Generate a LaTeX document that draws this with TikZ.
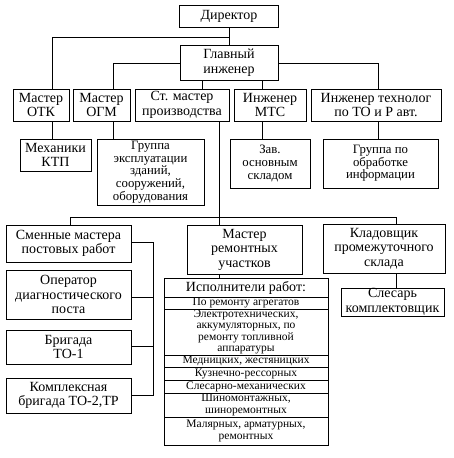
\documentclass[tikz,border=0pt]{standalone}
\usepackage{fontspec}
\setmainfont{Liberation Serif}
\begin{document}
\begin{tikzpicture}[x=1pt,y=-1pt,
  box/.style={draw, line width=0.9pt, align=center, inner sep=0pt, font=\fontsize{14}{14.5}\selectfont},
  sbox/.style={box, font=\fontsize{12.8}{12.6}\selectfont},
  tbox/.style={box, font=\fontsize{11.5}{12.2}\selectfont},
  ln/.style={line width=0.9pt}]
\useasboundingbox (0,0) rectangle (454,458);
% vertical-line x positions and junction rows
\coordinate (xOTK) at (52,0);
\coordinate (xOGM) at (113,0);
\coordinate (xST) at (202,0);
\coordinate (xMTS) at (262,0);
\coordinate (xTECH) at (378,0);
\coordinate (xDOWN) at (219,0);
\coordinate (xSMEN) at (70,0);
\coordinate (xKLAD) at (396,0);
\coordinate (xBR) at (153,0);
\coordinate (yTOP) at (0,37);
\coordinate (yMID) at (0,217);

% top levels
\node[box, minimum width=99pt, minimum height=22pt] (dir) at (229,16) {Директор};
\node[box, minimum width=98pt, minimum height=35pt] (gl) at (229,62.5) {Главный\\инженер};

\node[box, minimum width=56pt, minimum height=32pt] (otk) at (41,105) {Мастер\\ОТК};
\node[box, minimum width=57pt, minimum height=32pt] (ogm) at (101.5,105) {Мастер\\ОГМ};
\node[box, minimum width=94pt, minimum height=32pt] (st) at (182,105) {Ст. мастер\\производства};
\node[box, minimum width=72pt, minimum height=32pt] (mts) at (270,105) {Инженер\\МТС};
\node[box, minimum width=130pt, minimum height=32pt] (tech) at (376,105) {Инженер технолог\\по ТО и Р авт.};

\node[box, minimum width=71pt, minimum height=32pt] (ktp) at (55.5,155) {Механики\\КТП};
\node[sbox, minimum width=107pt, minimum height=66pt] (grp) at (150.5,172) {Группа\\эксплуатации\\зданий,\\сооружений,\\оборудования};
\node[sbox, minimum width=80pt, minimum height=49pt] (zav) at (270,163.5) {Зав.\\основным\\складом};
\node[sbox, minimum width=115pt, minimum height=49pt] (obr) at (380.5,163.5) {Группа по\\обработке\\информации};

% lower part
\node[box, minimum width=125pt, minimum height=37pt] (smen) at (68.5,243.5) {Сменные мастера\\постовых работ};
\node[box, minimum width=125pt, minimum height=49pt] (oper) at (68.5,294.5) {Оператор\\диагностического\\поста};
\node[box, minimum width=125pt, minimum height=34pt] (brig) at (68.5,347) {Бригада\\ТО-1};
\node[box, minimum width=125pt, minimum height=35pt] (kompl) at (68.5,395.5) {Комплексная\\бригада ТО-2,ТР};

\node[box, minimum width=115pt, minimum height=49pt] (mrem) at (244.5,249.5) {Мастер\\ремонтных\\участков};
\node[box, minimum width=122pt, minimum height=49pt] (klad) at (384,248.5) {Кладовщик\\промежуточного\\склада};
\node[box, minimum width=103pt, minimum height=28pt] (sles) at (392.5,302) {Слесарь\\комплектовщик};

% table of executors (x 164..328)
\node[box, minimum width=164pt, minimum height=19.5pt] (t0) at (246,287.75) {Исполнители работ:};
\node[tbox, minimum width=164pt, minimum height=11.5pt] (t1) at (246,303.25) {По ремонту агрегатов};
\node[tbox, minimum width=164pt, minimum height=46pt, font=\fontsize{11.5}{11.2}\selectfont] (t2) at (246,332) {Электротехнических,\\аккумуляторных, по\\ремонту топливной\\аппаратуры};
\node[tbox, minimum width=164pt, minimum height=12pt] (t3) at (246,361) {Медницких, жестяницких};
\node[tbox, minimum width=164pt, minimum height=13pt] (t4) at (246,373.5) {Кузнечно-рессорных};
\node[tbox, minimum width=164pt, minimum height=13pt] (t5) at (246,386.5) {Слесарно-механических};
\node[tbox, minimum width=164pt, minimum height=24pt] (t6) at (246,405) {Шиномонтажных,\\шиноремонтных};
\node[tbox, minimum width=164pt, minimum height=28pt] (t7) at (246,431) {Малярных, арматурных,\\ремонтных};

% connectors
\draw[ln] (dir.south) -- (gl.north);
\draw[ln] (dir.south |- yTOP) -| (otk.north -| xOTK);
\draw[ln] (gl.west |- 0,63) -| (ogm.north -| xOGM);
\draw[ln] (gl.east |- 0,63) -| (tech.north -| xTECH);
\draw[ln] (gl.south -| xST) -- (st.north -| xST);
\draw[ln] (gl.south -| xMTS) -- (mts.north -| xMTS);
\draw[ln] (otk.south -| xOTK) -- (ktp.north -| xOTK);
\draw[ln] (ogm.south -| xOGM) -- (grp.north -| xOGM);
\draw[ln] (mts.south -| xMTS) -- (zav.north -| xMTS);
\draw[ln] (tech.south -| xTECH) -- (obr.north -| xTECH);
\draw[ln] (st.south -| xDOWN) -- (mrem.north -| xDOWN);
\draw[ln] (smen.north -| xSMEN) -- (xSMEN |- yMID) -- (xKLAD |- yMID) -- (klad.north -| xKLAD);
\draw[ln] (mrem.south -| xDOWN) -- (t0.north -| xDOWN);
\draw[ln] (klad.south -| xKLAD) -- (sles.north -| xKLAD);
\draw[ln] (smen.east |- 0,242) -- (xBR |- 0,242) -- (xBR |- 0,395) -- (kompl.east |- 0,395);
\draw[ln] (oper.east |- 0,297) -- (xBR |- 0,297);
\draw[ln] (brig.east |- 0,346) -- (xBR |- 0,346);
\end{tikzpicture}
\end{document}
